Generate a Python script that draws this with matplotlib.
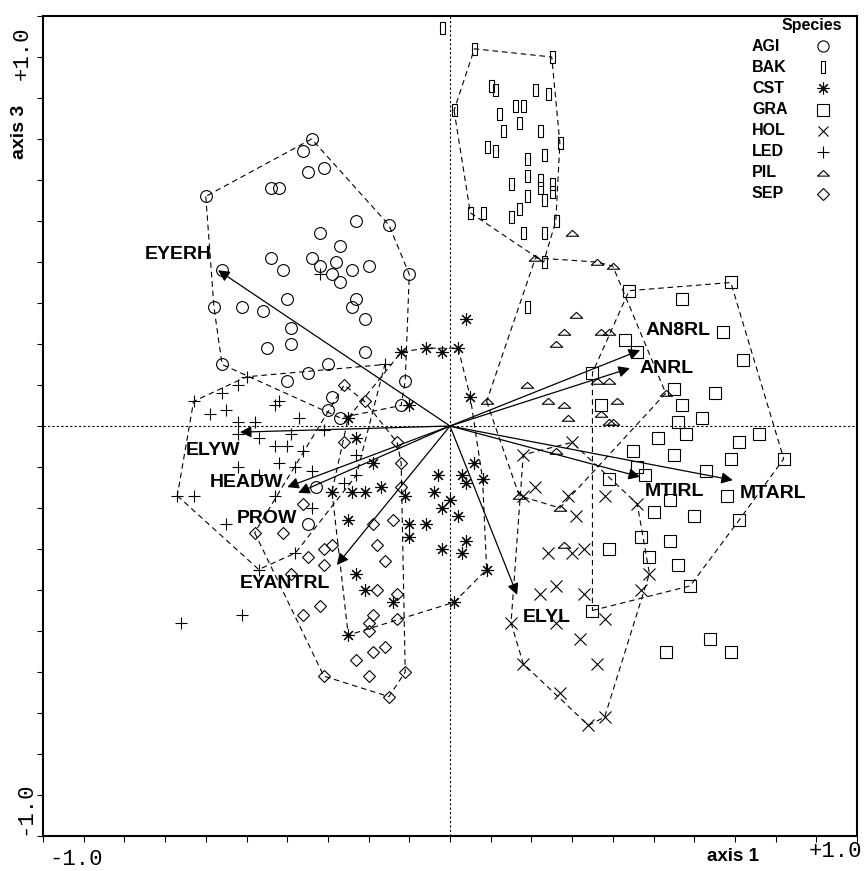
import numpy as np
import matplotlib
matplotlib.use('Agg')
from matplotlib import pyplot as plt
from matplotlib.path import Path

# sample scores on axis 1 / axis 3, per species
# *_pts are inside the dashed envelope, *_out lie outside it
agi_pts = [(-0.34, 0.70), (-0.36, 0.67), (-0.31, 0.63), (-0.35, 0.62), (-0.44, 0.58), (-0.42, 0.58),
           (-0.60, 0.56), (-0.23, 0.50), (-0.15, 0.49), (-0.32, 0.47), (-0.27, 0.44), (-0.44, 0.41),
           (-0.34, 0.41), (-0.32, 0.39), (-0.28, 0.40), (-0.41, 0.38), (-0.29, 0.37), (-0.27, 0.35),
           (-0.24, 0.38), (-0.20, 0.39), (-0.56, 0.38), (-0.10, 0.37), (-0.40, 0.31), (-0.23, 0.31),
           (-0.24, 0.29), (-0.58, 0.29), (-0.51, 0.29), (-0.46, 0.28), (-0.39, 0.24), (-0.21, 0.26),
           (-0.45, 0.19), (-0.39, 0.20), (-0.21, 0.18), (-0.56, 0.15), (-0.30, 0.15), (-0.35, 0.13),
           (-0.40, 0.11), (-0.11, 0.11), (-0.29, 0.07), (-0.30, 0.04), (-0.27, 0.02), (-0.12, 0.05)]
agi_out = [(-0.33, -0.15), (-0.35, -0.24)]

bak_pts = [(0.06, 0.92), (0.25, 0.90), (0.10, 0.83), (0.11, 0.82), (0.21, 0.82), (0.24, 0.81),
           (0.16, 0.78), (0.18, 0.78), (0.01, 0.77), (0.12, 0.76), (0.17, 0.74), (0.22, 0.72),
           (0.13, 0.72), (0.27, 0.69), (0.09, 0.68), (0.11, 0.67), (0.23, 0.66), (0.19, 0.65),
           (0.15, 0.59), (0.19, 0.61), (0.22, 0.60), (0.25, 0.59), (0.25, 0.57), (0.19, 0.56),
           (0.22, 0.58), (0.23, 0.55), (0.05, 0.52), (0.08, 0.52), (0.15, 0.51), (0.17, 0.53),
           (0.26, 0.50), (0.18, 0.47), (0.23, 0.47), (0.23, 0.40)]
bak_out = [(-0.02, 0.97), (0.19, 0.29)]

cst_pts = [(-0.12, 0.18), (-0.06, 0.19), (-0.02, 0.18), (0.02, 0.19), (0.05, 0.07), (-0.10, 0.05),
           (-0.25, 0.02), (-0.23, -0.03), (-0.19, -0.09), (-0.03, -0.12), (0.03, -0.12), (0.08, -0.13),
           (0.06, -0.09), (0.04, -0.14), (-0.04, -0.16), (-0.17, -0.15), (-0.29, -0.16), (-0.24, -0.16),
           (-0.21, -0.16), (-0.25, -0.23), (-0.11, -0.17), (0.00, -0.18), (-0.02, -0.20), (0.02, -0.22),
           (-0.10, -0.24), (-0.06, -0.24), (-0.10, -0.27), (-0.02, -0.30), (0.04, -0.28), (0.03, -0.31),
           (0.09, -0.35), (-0.23, -0.36), (-0.21, -0.40), (-0.14, -0.43), (0.01, -0.43), (-0.25, -0.51)]
cst_out = [(0.04, 0.26)]

gra_pts = [(0.44, 0.33), (0.57, 0.31), (0.69, 0.35), (0.43, 0.21), (0.46, 0.18), (0.67, 0.23),
           (0.72, 0.16), (0.35, 0.13), (0.55, 0.09), (0.65, 0.08), (0.57, 0.05), (0.56, 0.01),
           (0.62, 0.02), (0.58, -0.02), (0.51, -0.03), (0.55, -0.07), (0.71, -0.04), (0.76, -0.02),
           (0.69, -0.08), (0.82, -0.08), (0.37, 0.05), (0.45, -0.06), (0.46, -0.10), (0.48, -0.12),
           (0.63, -0.11), (0.39, -0.13), (0.54, -0.18), (0.50, -0.21), (0.60, -0.22), (0.68, -0.17),
           (0.71, -0.23), (0.39, -0.30), (0.47, -0.27), (0.54, -0.28), (0.49, -0.32), (0.56, -0.34),
           (0.59, -0.39), (0.35, -0.45)]
gra_out = [(0.64, -0.52), (0.53, -0.55), (0.69, -0.55)]

hol_pts = [(0.30, -0.04), (0.18, -0.07), (0.21, -0.15), (0.18, -0.17), (0.29, -0.17), (0.31, -0.22),
           (0.38, -0.17), (0.46, -0.19), (0.24, -0.31), (0.30, -0.31), (0.33, -0.30), (0.22, -0.41),
           (0.26, -0.39), (0.33, -0.41), (0.15, -0.48), (0.26, -0.48), (0.38, -0.47), (0.32, -0.52),
           (0.49, -0.36), (0.47, -0.40), (0.18, -0.58), (0.36, -0.58), (0.27, -0.65), (0.34, -0.73),
           (0.38, -0.71)]
hol_out = []

led_pts = [(-0.63, 0.06), (-0.56, 0.08), (-0.52, 0.10), (-0.50, 0.12), (-0.59, 0.03), (-0.55, 0.04),
           (-0.43, 0.05), (-0.42, 0.06), (-0.37, 0.02), (-0.52, 0.01), (-0.48, 0.01), (-0.52, -0.02),
           (-0.47, -0.03), (-0.39, -0.02), (-0.31, -0.01), (-0.43, -0.05), (-0.40, -0.05), (-0.36, -0.06),
           (-0.42, -0.09), (-0.38, -0.10), (-0.34, -0.11), (-0.52, -0.10), (-0.47, -0.12), (-0.67, -0.17),
           (-0.63, -0.17), (-0.43, -0.17), (-0.34, -0.20), (-0.55, -0.24), (-0.38, -0.31), (-0.47, -0.35),
           (-0.16, 0.15), (-0.26, -0.14), (-0.23, -0.07), (-0.23, -0.12)]
led_out = [(-0.32, 0.37), (-0.66, -0.48), (-0.51, -0.46)]

pil_pts = [(0.21, 0.41), (0.36, 0.40), (0.40, 0.39), (0.31, 0.27), (0.28, 0.23), (0.26, 0.20),
           (0.37, 0.23), (0.39, 0.23), (0.19, 0.10), (0.09, 0.06), (0.24, 0.06), (0.28, 0.05),
           (0.41, 0.06), (0.29, 0.02), (0.37, 0.03), (0.40, 0.01), (0.39, 0.01), (0.36, 0.11),
           (0.39, 0.11), (0.53, 0.08), (0.26, -0.06), (0.17, -0.17), (0.27, -0.20)]
pil_out = [(0.30, 0.47), (0.28, -0.29)]

sep_pts = [(-0.26, 0.10), (-0.21, 0.06), (-0.26, -0.04), (-0.13, -0.04), (-0.12, -0.09), (-0.12, -0.15),
           (-0.36, -0.19), (-0.41, -0.26), (-0.48, -0.26), (-0.19, -0.24), (-0.14, -0.23), (-0.18, -0.29),
           (-0.35, -0.32), (-0.31, -0.30), (-0.29, -0.29), (-0.31, -0.34), (-0.16, -0.33), (-0.39, -0.36),
           (-0.18, -0.40), (-0.13, -0.41), (-0.36, -0.46), (-0.32, -0.44), (-0.13, -0.47), (-0.19, -0.46),
           (-0.20, -0.48), (-0.20, -0.50), (-0.16, -0.54), (-0.19, -0.55), (-0.23, -0.57), (-0.31, -0.61),
           (-0.20, -0.61), (-0.11, -0.60), (-0.15, -0.66)]
sep_out = []

# environmental variable arrows
env_names = ['EYERH', 'ELYW', 'HEADW', 'PROW', 'EYANTRL', 'ELYL', 'AN8RL', 'ANRL', 'MTIRL', 'MTARL']
env_x = [-0.570, -0.516, -0.400, -0.373, -0.278, 0.165, 0.467, 0.442, 0.467, 0.695]
env_y = [0.380, -0.015, -0.149, -0.163, -0.339, -0.412, 0.185, 0.141, -0.124, -0.132]


def hull(pts):
    # monotone chain convex hull
    p = sorted(set(pts))
    def cross(o, a, b):
        return (a[0] - o[0]) * (b[1] - o[1]) - (a[1] - o[1]) * (b[0] - o[0])
    lower, upper = [], []
    for q in p:
        while len(lower) >= 2 and cross(lower[-2], lower[-1], q) <= 0:
            lower.pop()
        lower.append(q)
    for q in reversed(p):
        while len(upper) >= 2 and cross(upper[-2], upper[-1], q) <= 0:
            upper.pop()
        upper.append(q)
    h = lower[:-1] + upper[:-1]
    return np.array(h + [h[0]])


bak_mark = Path([(-0.2, -0.5), (0.2, -0.5), (0.2, 0.5), (-0.2, 0.5), (-0.2, -0.5)],
                [Path.MOVETO, Path.LINETO, Path.LINETO, Path.LINETO, Path.CLOSEPOLY])
pil_mark = Path([(-0.5, -0.22), (0.5, -0.22), (0.0, 0.25), (-0.5, -0.22)],
                [Path.MOVETO, Path.LINETO, Path.LINETO, Path.CLOSEPOLY])

species = [
    ('AGI', agi_pts, agi_out, 'o', 8.5),
    ('BAK', bak_pts, bak_out, bak_mark, 9),
    ('CST', cst_pts, cst_out, (8, 2, 0), 9),
    ('GRA', gra_pts, gra_out, 's', 8.5),
    ('HOL', hol_pts, hol_out, 'x', 8),
    ('LED', led_pts, led_out, '+', 9),
    ('PIL', pil_pts, pil_out, pil_mark, 9),
    ('SEP', sep_pts, sep_out, 'D', 6.5),
]

plt.rcParams['font.family'] = ['Liberation Sans', 'DejaVu Sans']

fig = plt.figure(figsize=(8.65, 8.71), dpi=100)
ax = fig.add_axes([43 / 865, 35 / 871, 814 / 865, 820 / 871])
ax.set_xlim(-1, 1)
ax.set_ylim(-1, 1)

ax.axhline(0, color='k', lw=0.8, ls=(0, (2, 2)))
ax.axvline(0, color='k', lw=0.8, ls=(0, (2, 2)))

for name, pts, out, mk, ms in species:
    h = hull(pts)
    ax.plot(h[:, 0], h[:, 1], color='k', lw=0.8, ls=(0, (5, 3.5)))
    allp = np.array(pts + out)
    ax.plot(allp[:, 0], allp[:, 1], ls='none', marker=mk, ms=ms, mfc='none', mec='k', mew=0.8)

label_pos = {
    'EYERH': (-6, 16, 'right'), 'ELYW': (0, -18, 'right'), 'HEADW': (-4, 5, 'right'),
    'PROW': (-1, -26, 'right'), 'EYANTRL': (-7, -19, 'right'), 'ELYL': (6, -23, 'left'),
    'AN8RL': (5, 20, 'left'), 'ANRL': (10, 0, 'left'), 'MTIRL': (5, -15, 'left'),
    'MTARL': (7, -13, 'left'),
}
for n, x, y in zip(env_names, env_x, env_y):
    ax.annotate('', xy=(x, y), xytext=(0, 0),
                arrowprops=dict(arrowstyle='-|>', color='k', lw=0.9, mutation_scale=17,
                                shrinkA=0, shrinkB=0))
    dx, dy, ha = label_pos[n]
    ax.annotate(n, xy=(x, y), xytext=(dx, dy), textcoords='offset pixels', ha=ha, va='center',
                fontsize=14, fontweight='bold')

# legend drawn by hand: names on the left, symbols in a column on the right
ax.text(0.945, 0.989, 'Species', transform=ax.transAxes, ha='center', va='center',
        fontsize=11.5, fontweight='bold')
for i, (name, pts, out, mk, ms) in enumerate(species):
    ly = 0.963 - i * 0.0257
    ax.text(0.871, ly, name, transform=ax.transAxes, ha='left', va='center',
            fontsize=11.5, fontweight='bold')
    ax.plot([0.958], [ly], transform=ax.transAxes, ls='none', marker=mk, ms=ms * 0.95,
            mfc='none', mec='k', mew=0.8, clip_on=False)

ax.set_xticks(np.arange(-10, 11) / 10)
ax.set_yticks(np.arange(-10, 11) / 10)
ax.set_xticklabels([])
ax.set_yticklabels([])
ax.tick_params(direction='out', length=4, width=0.8, top=False, right=False)
for s in ax.spines.values():
    s.set_linewidth(1.5)

mono = 'Liberation Mono'
fig.text(76 / 865, 1 - 859 / 871, '-1.0', family=mono, fontsize=16, ha='center', va='center')
fig.text(836 / 865, 1 - 851 / 871, '+1.0', family=mono, fontsize=16, ha='center', va='center')
fig.text(733 / 865, 1 - 856 / 871, 'axis 1', fontsize=13.5, fontweight='bold', ha='center', va='center')
fig.text(22 / 865, 1 - 53 / 871, '+1.0', family=mono, fontsize=16, ha='center', va='center', rotation=90)
fig.text(20 / 865, 1 - 132 / 871, 'axis 3', fontsize=14, fontweight='bold', ha='center', va='center',
         rotation=90)
fig.text(25 / 865, 1 - 808 / 871, '-1.0', family=mono, fontsize=16, ha='center', va='center', rotation=90)

fig.savefig('out.png', dpi=100)
